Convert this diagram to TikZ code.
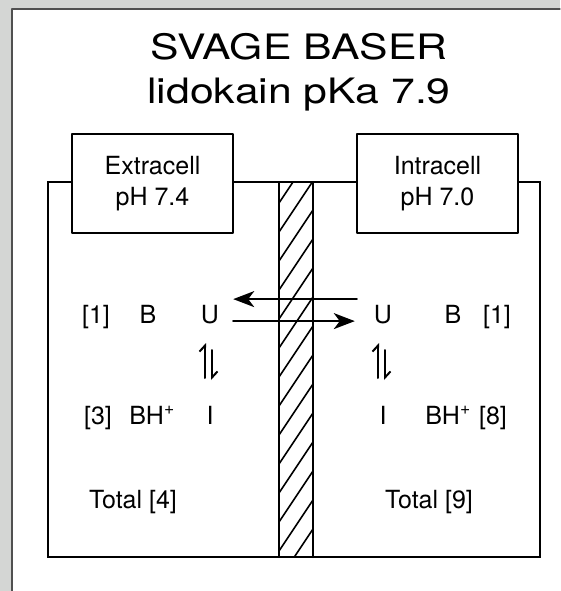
\documentclass[tikz,border=0pt]{standalone}
\usepackage{fontspec}
\setmainfont{TeX Gyre Heros}
\usetikzlibrary{arrows.meta}

\definecolor{bggray}{RGB}{212,214,212}
\definecolor{edgegray}{RGB}{80,80,80}

\newcommand{\widettl}[1]{\scalebox{1.22}[1]{#1}}

\tikzset{
  lbl/.style={font=\fontsize{25}{30}\selectfont, inner sep=0pt, anchor=base},
  ttl/.style={font=\fontsize{35}{42}\selectfont, inner sep=0pt, anchor=base},
  phbox/.style={draw, fill=white, line width=2pt, minimum width=161pt, minimum height=99pt,
    align=center, font=\fontsize{25}{31}\selectfont},
  flux/.style={line width=2pt, -{Stealth[length=21pt,width=16pt,inset=6pt]}},
  harp/.style={line width=2pt, -{Straight Barb[left,length=6pt,width=11pt]}},
}

\begin{document}
\begin{tikzpicture}[line cap=round,line join=round,x=1pt,y=-1pt]
\useasboundingbox (0,0) rectangle (560,591);
\fill[bggray] (0,0) rectangle (560,591);
\fill[white] (12,9) rectangle (560,591);
\draw[edgegray,line width=1.2pt] (12,591) -- (12,9) -- (560,9);

% title
\node[ttl] (ttlA) at (299,60) {\widettl{SVAGE BASER}};
\node[ttl] (ttlB) at (299,103) {\widettl{lidokain pKa 7.9}};

% cell and membrane
\draw[line width=2.5pt,line join=miter] (48,182) rectangle (540,557);
\begin{scope}
  \clip (279,182) rectangle (313,557);
  \foreach \k in {0,...,14}
    \draw[line width=1.6pt] (279,203+29*\k) -- (313,152+29*\k);
\end{scope}
\draw[line width=2pt] (279,182) -- (279,557);
\draw[line width=2pt] (313,182) -- (313,557);

% pH boxes
\node[phbox] (extra) at (152.5,183.5) {Extracell\\pH 7.4};
\node[phbox] (intra) at (437.5,183.5) {Intracell\\pH 7.0};

% extracellular side
\node[lbl] (cL1) at (96,323) {[1]};
\node[lbl] (bL) at (148,323) {B};
\node[lbl] (uL) at (210,323) {U};
\node[lbl] (cL3) at (98,424) {[3]};
\node[lbl] (bhL) at (152,424) {BH\textsuperscript{+}};
\node[lbl] (iL) at (210,424) {I};
\node[lbl] (totL) at (133,508) {Total [4]};

% intracellular side
\node[lbl] (uR) at (383,323) {U};
\node[lbl] (bR) at (453,323) {B};
\node[lbl] (cR1) at (497,323) {[1]};
\node[lbl] (iR) at (383,424) {I};
\node[lbl] (bhR) at (448,424) {BH\textsuperscript{+}};
\node[lbl] (cR8) at (493,424) {[8]};
\node[lbl] (totR) at (429,508) {Total [9]};

% transport across membrane
\draw[flux] ([xshift=-17pt,yshift=15pt]uR.west) -- ([xshift=14pt,yshift=15pt]uL.east);
\draw[flux] ([xshift=14pt,yshift=-7pt]uL.east) -- ([xshift=-19pt,yshift=-7pt]uR.west);

% equilibria
\draw[harp] ([xshift=-5pt,yshift=-55pt]uL.base) -- ([xshift=-5pt,yshift=-20pt]uL.base);
\draw[harp] ([xshift=2pt,yshift=-27pt]uL.base) -- ([xshift=2pt,yshift=-57pt]uL.base);
\draw[harp] ([xshift=-5pt,yshift=-55pt]uR.base) -- ([xshift=-5pt,yshift=-20pt]uR.base);
\draw[harp] ([xshift=2pt,yshift=-27pt]uR.base) -- ([xshift=2pt,yshift=-57pt]uR.base);
\end{tikzpicture}
\end{document}
